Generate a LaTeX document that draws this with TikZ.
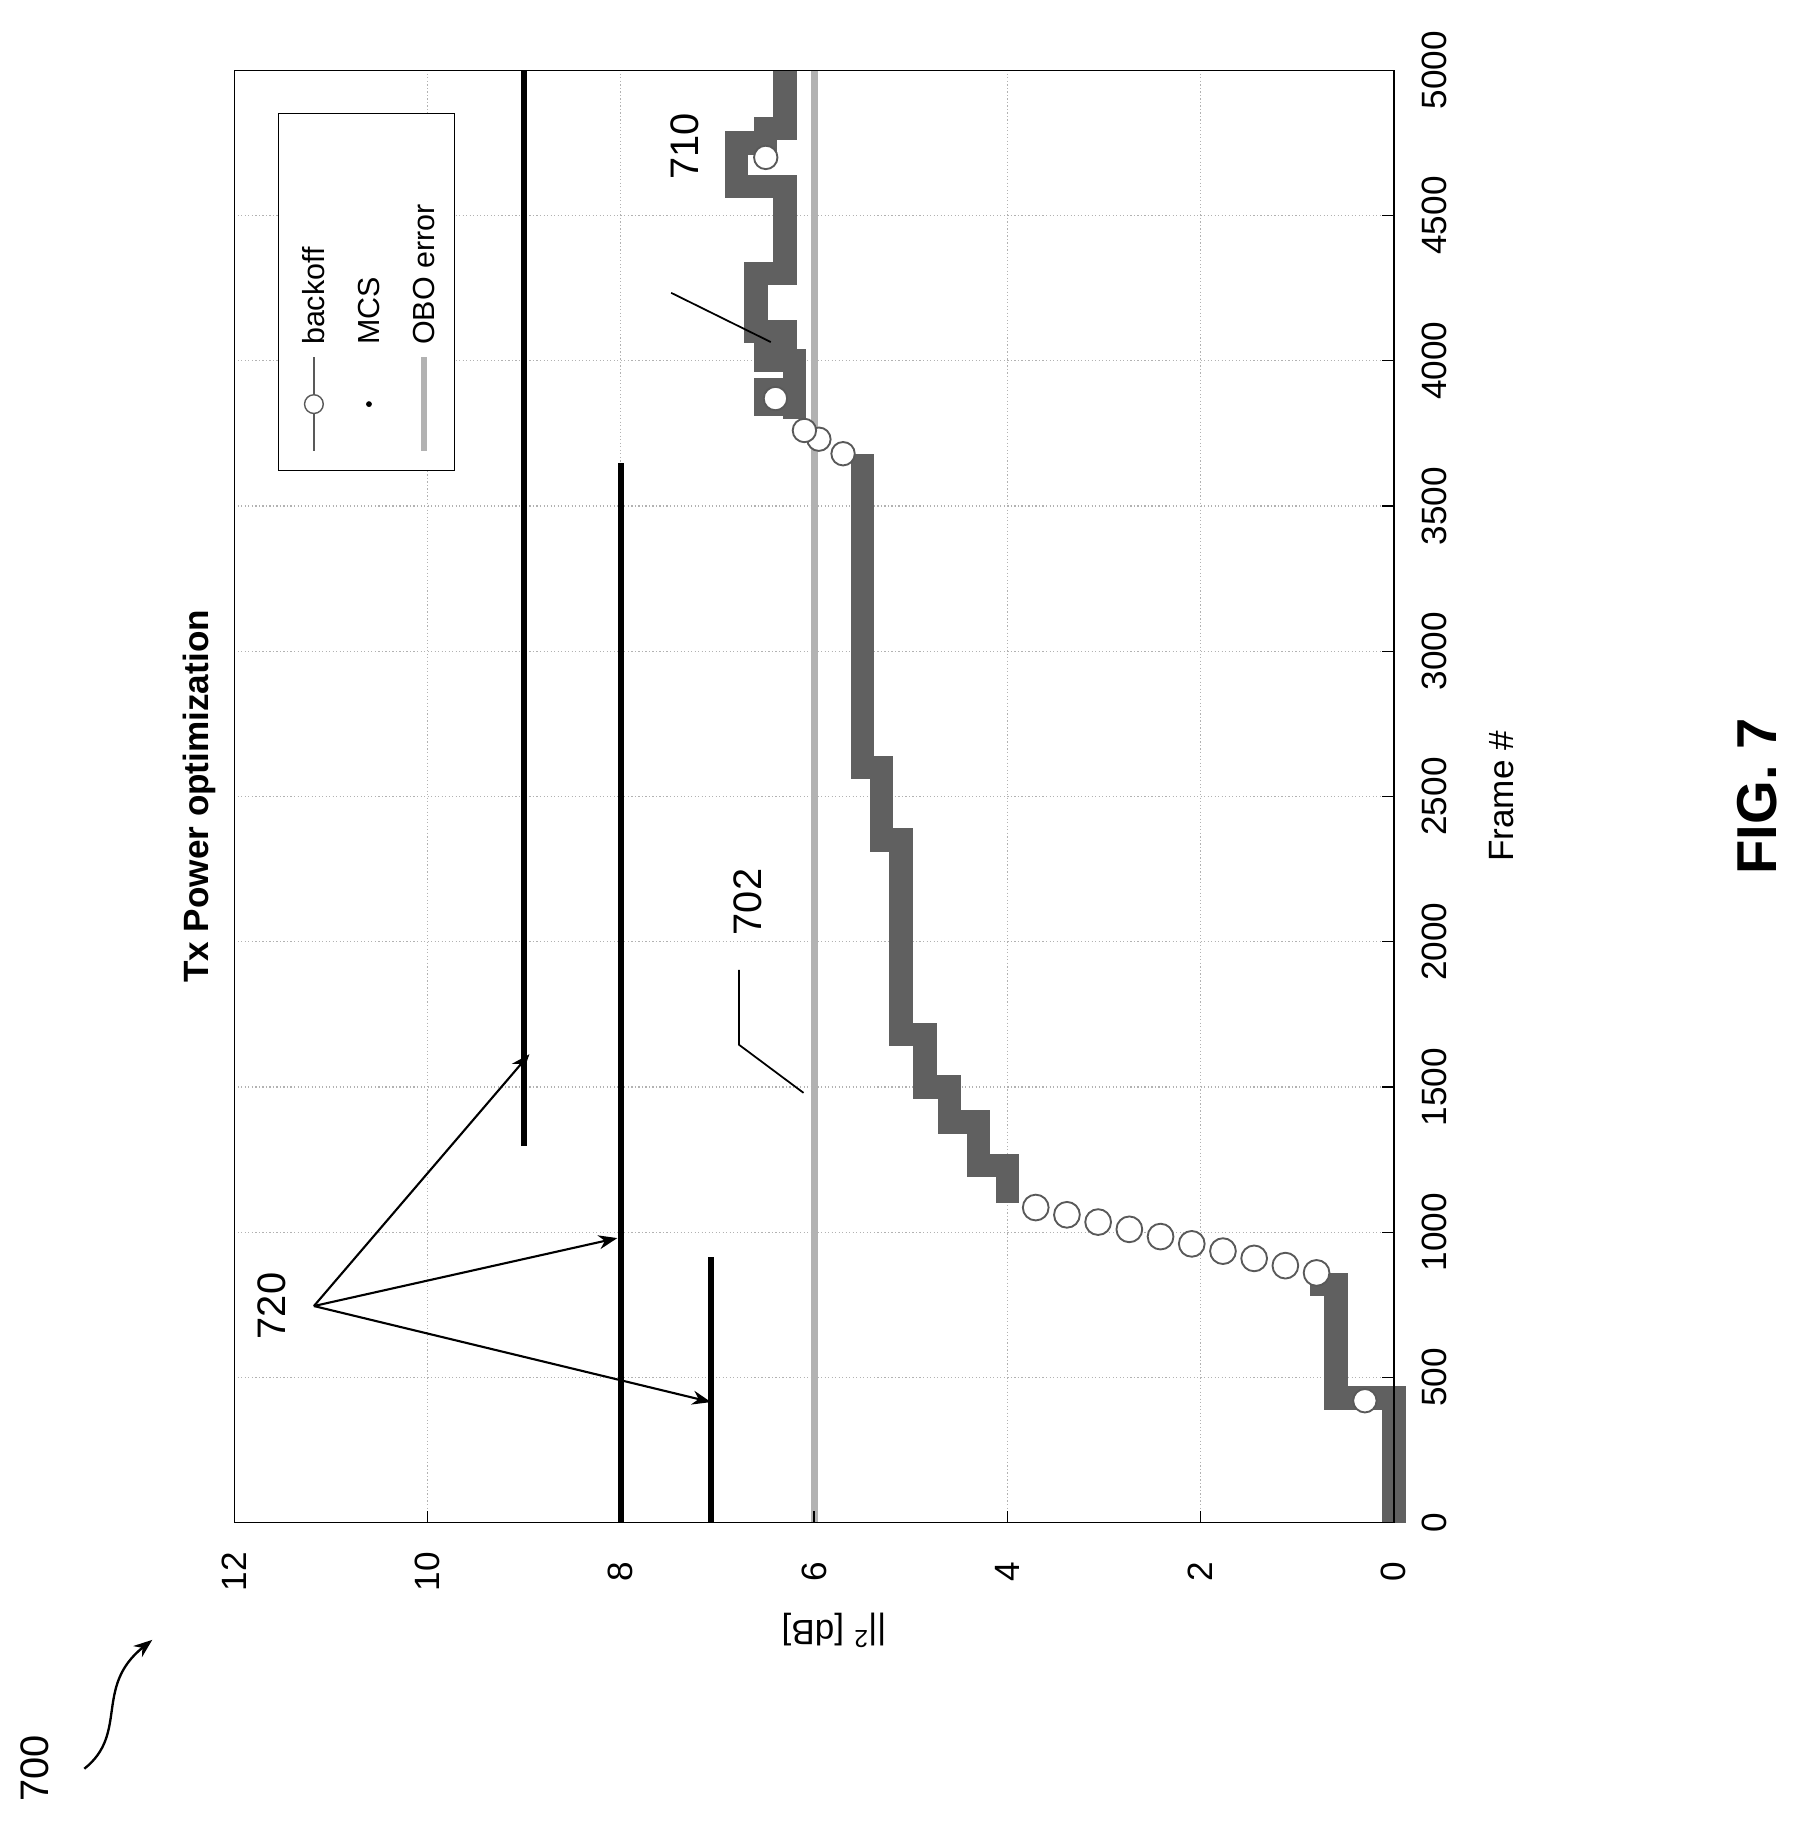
\documentclass[tikz,border=0pt]{standalone}
\usepackage{fontspec}
\setmainfont{Liberation Sans}
\usetikzlibrary{arrows.meta}
\begin{document}
\begin{tikzpicture}[x=1pt,y=-1pt,
  grid/.style={gray!60,dotted,line width=1pt},
  level/.style={black,line width=5pt},
  data/.style={gray!75!black,line width=20pt},
  hollow/.style={gray!70!black,line width=1.6pt,fill=white},
  lbl/.style={font=\fontsize{30}{34}\selectfont,rotate=90},
  ref/.style={font=\fontsize{34}{38}\selectfont,rotate=90},
  lead/.style={black,line width=1.5pt},
  arr/.style={black,line width=1.8pt,-{Stealth[length=16pt,width=12pt]}}]
\useasboundingbox[fill=white] (0,0) rectangle (1550,1576);
% grid
\foreach \f in {500,1000,...,4500}{\draw[grid] (200,{1300-0.248*\f}) -- (1190,{1300-0.248*\f});}
\foreach \v in {2,4,...,10}{\draw[grid] ({1190-82.5*\v},60) -- ({1190-82.5*\v},1300);}
% levels 720
\node[coordinate] (l9a) at (447,978) {}; \node[coordinate] (l9b) at (447,60) {};
\draw[level] (l9a) -- (l9b);
\draw[level] (530,1300) -- (530,395);
\draw[level] (607,1300) -- (607,1073);
% OBO error
\draw[gray!60,line width=6pt] (695,1300) -- (695,60);
% data
\begin{scope}[shift={(1190,1300)},x={(-82.5pt,0pt)},y={(0pt,0.248pt)}]
\draw[data] (0,0) -- (0,430) -- (0.6,430) -- (0.6,820) -- (0.75,820) -- (0.75,860);
\draw[data] (4.0,1100) -- (4.0,1230) -- (4.3,1230) -- (4.3,1380) -- (4.6,1380) -- (4.6,1500)
 -- (4.85,1500) -- (4.85,1680) -- (5.1,1680) -- (5.1,2350) -- (5.3,2350) -- (5.3,2600)
 -- (5.5,2600) -- (5.5,3680);
\draw[data] (6.2,3800) -- (6.2,3850) -- (6.5,3850) -- (6.5,3900) -- (6.2,3900) -- (6.2,4000)
 -- (6.5,4000) -- (6.5,4050) -- (6.3,4050) -- (6.3,4100) -- (6.6,4100) -- (6.6,4300)
 -- (6.3,4300) -- (6.3,4600) -- (6.8,4600) -- (6.8,4750) -- (6.5,4750) -- (6.5,4800)
 -- (6.3,4800) -- (6.3,5000);
\foreach \f in {860,885,...,1100}{\draw[hollow] ({0.8+3.1*(\f-860)/240},\f) circle[radius=11pt];}
\foreach \f/\v in {420/0.3,3680/5.7,3730/5.95,3760/6.1,3870/6.4,4700/6.5}{\draw[hollow] (\v,\f) circle[radius=10pt];}
\end{scope}
% frame and ticks
\draw[black,line width=1.2pt] (200,60) rectangle (1190,1300);
\foreach \f in {0,500,...,5000}{
  \draw[line width=1pt] (1190,{1300-0.248*\f}) -- (1180,{1300-0.248*\f});
  \node[lbl] at (1225,{1300-0.248*\f}) {\f};}
\foreach \v in {0,2,...,12}{
  \draw[line width=1pt] ({1190-82.5*\v},1300) -- ({1190-82.5*\v},1290);
  \node[lbl] at ({1190-82.5*\v},1342) {\v};}
\node[lbl] at (1282,680) {Frame \#};
\node[font=\fontsize{30}{34}\selectfont,rotate=180] at (712,1392) {||\textsuperscript{2} [dB]};
\node[font=\fontsize{30}{34}\selectfont\bfseries,rotate=90] at (170,680) {Tx Power optimization};
% legend
\draw[black,line width=1pt,fill=white] (238,97) rectangle (388,402);
\draw[gray!70!black,line width=1.2pt] (268,385) -- (268,305);
\draw[hollow,line width=1.2pt] (268,345) circle[radius=8pt];
\fill[black] (315,345) circle[radius=2.5pt];
\draw[gray!60,line width=5pt] (362,385) -- (362,305);
\node[lbl,anchor=west,font=\fontsize{26}{30}\selectfont] at (268,298) {backoff};
\node[lbl,anchor=west,font=\fontsize{26}{30}\selectfont] at (315,298) {MCS};
\node[lbl,anchor=west,font=\fontsize{26}{30}\selectfont] at (362,298) {OBO error};
% reference labels
\node[ref] (n720) at (232,1115) {720};
\node[coordinate] (a720) at (268,1115) {};
\node[coordinate] (t1) at (452,900) {};
\node[coordinate] (t2) at (527,1057) {};
\node[coordinate] (t3) at (607,1197) {};
\draw[arr] (a720) -- (t1);
\draw[arr] (a720) -- (t2);
\draw[arr] (a720) -- (t3);
\node[ref] (n702) at (638,770) {702};
\node[coordinate] (p702) at (686,933) {};
\draw[lead] (631,828) -- (631,892) -- (p702);
\node[ref] (n710) at (585,125) {710};
\node[coordinate] (p710) at (658,292) {};
\draw[lead] (573,250) -- (p710);
\node[ref] (n700) at (30,1510) {700};
\node[coordinate] (p700) at (130,1400) {};
\draw[black,line width=2pt,-{Stealth[length=16pt,width=12pt]}] (72,1510) .. controls (110,1480) and (80,1440) .. (p700);
\node[font=\fontsize{48}{52}\selectfont\bfseries,rotate=90] (fig) at (1500,680) {FIG. 7};
\end{tikzpicture}
\end{document}
